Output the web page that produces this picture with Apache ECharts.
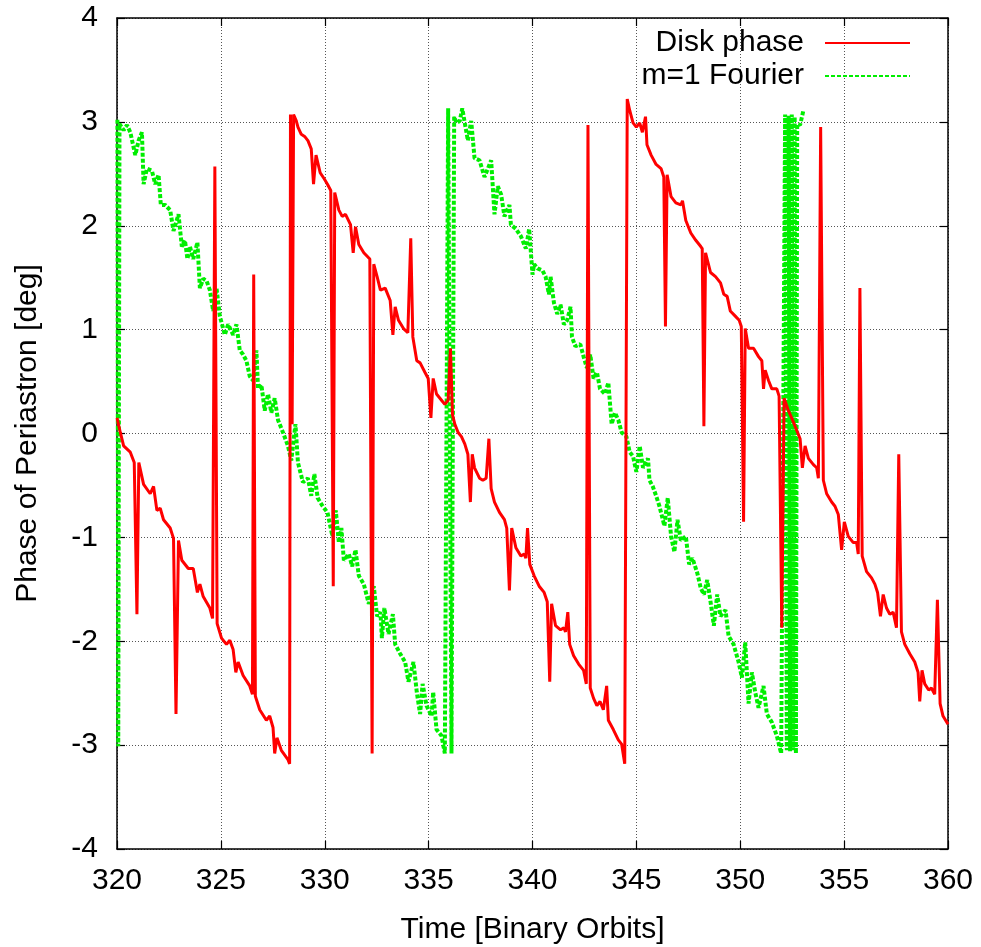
<!DOCTYPE html>
<html>
<head>
<meta charset="utf-8">
<script src="https://cdn.jsdelivr.net/npm/echarts@6/dist/echarts.min.js"></script>
<style>
html,body{margin:0;padding:0;background:#fff;}
#chart{width:981px;height:947px;}
</style>
</head>
<body>
<div id="chart"></div>
<script>
// ---- Data ----
const xTicks = [320, 325, 330, 335, 340, 345, 350, 355, 360];
const yTicks = [-4, -3, -2, -1, 0, 1, 2, 3, 4];
const seriesNames = ['Disk phase', 'm=1 Fourier'];

const diskTime = [
320.00,320.16,320.32,320.64,320.83,320.96,321.05,321.28,321.60,321.76,321.92,322.08,322.24,322.56,322.72,322.84,322.96,323.12,323.43,323.67,
323.87,323.99,324.15,324.47,324.60,324.71,324.82,325.03,325.27,325.43,325.59,325.72,325.83,326.07,326.39,326.52,326.58,326.66,326.87,327.19,
327.35,327.51,327.59,327.70,327.91,328.23,328.31,328.35,328.43,328.50,328.63,328.71,328.87,329.03,329.19,329.35,329.46,329.58,329.78,329.98,
330.13,330.29,330.41,330.48,330.68,330.84,331.00,331.24,331.37,331.48,331.64,331.88,332.17,332.28,332.36,332.52,332.68,332.91,333.15,333.28,
333.39,333.55,333.79,334.00,334.14,334.24,334.43,334.59,334.82,334.98,335.11,335.22,335.38,335.62,335.78,335.94,336.05,336.15,336.26,336.42,
336.58,336.74,336.89,337.01,337.10,337.21,337.45,337.61,337.77,337.90,338.01,338.17,338.41,338.65,338.76,338.89,339.00,339.20,339.44,339.60,
339.68,339.76,339.87,340.08,340.32,340.56,340.71,340.83,340.92,341.11,341.35,341.51,341.59,341.70,341.79,341.98,342.22,342.46,342.59,342.67,
342.78,342.94,343.10,343.25,343.41,343.57,343.65,343.89,344.13,344.29,344.44,344.56,344.68,344.84,345.00,345.16,345.29,345.44,345.51,345.71,
345.95,346.19,346.32,346.40,346.48,346.67,346.90,347.14,347.22,347.38,347.62,347.86,348.10,348.17,348.25,348.33,348.57,348.81,349.05,349.21,
349.37,349.52,349.76,349.95,350.05,350.16,350.24,350.40,350.64,350.88,351.04,351.12,351.20,351.36,351.52,351.76,351.87,352.00,352.11,352.32,
352.56,352.72,352.88,352.99,353.12,353.28,353.52,353.68,353.76,353.87,354.00,354.16,354.40,354.56,354.72,354.88,355.01,355.20,355.44,355.60,
355.68,355.76,355.87,356.08,356.32,356.48,356.61,356.75,356.88,357.04,357.20,357.36,357.52,357.63,357.76,357.92,358.16,358.40,358.56,358.64,
358.75,358.88,359.07,359.20,359.36,359.49,359.62,359.76,360.00
];
const diskPhase = [
0.15,0.01,-0.12,-0.18,-0.28,-1.74,-0.28,-0.49,-0.58,-0.51,-0.74,-0.72,-0.83,-0.91,-1.01,-2.70,-1.03,-1.22,-1.30,-1.30,
-1.53,-1.45,-1.57,-1.68,-1.78,2.57,-1.83,-1.97,-2.03,-1.99,-2.08,-2.30,-2.20,-2.33,-2.43,-2.51,1.53,-2.53,-2.66,-2.76,
-2.72,-2.83,-3.08,-2.93,-3.05,-3.14,-3.18,3.07,0.09,3.07,3.01,2.95,2.88,2.86,2.82,2.74,2.40,2.68,2.51,2.45,
2.40,2.34,-1.47,2.32,2.15,2.09,2.11,2.01,1.74,1.99,1.82,1.74,1.68,-3.08,1.63,1.51,1.38,1.40,1.28,0.95,
1.22,1.09,1.01,0.97,1.88,0.93,0.70,0.68,0.59,0.53,0.15,0.53,0.38,0.32,0.28,0.32,0.82,0.18,0.09,0.01,
-0.03,-0.10,-0.20,-0.66,-0.20,-0.33,-0.43,-0.45,-0.43,-0.05,-0.53,-0.66,-0.76,-0.83,-0.91,-1.51,-0.91,-1.10,-1.18,-1.16,
-1.20,-0.91,-1.26,-1.37,-1.47,-1.53,-1.62,-2.39,-1.64,-1.85,-1.89,-1.87,-1.91,-1.72,-2.03,-2.14,-2.22,-2.28,-2.41,2.97,
-2.45,-2.55,-2.62,-2.58,-2.66,-2.43,-2.76,-2.85,-2.95,-2.99,-3.18,3.22,3.11,2.99,2.95,2.99,2.90,3.05,2.78,2.68,
2.59,2.55,2.47,1.03,2.49,2.28,2.22,2.20,2.24,2.05,1.93,1.86,1.80,1.78,0.07,1.74,1.55,1.51,1.45,1.34,
1.32,1.18,1.13,1.09,1.03,-0.85,1.01,0.82,0.82,0.74,0.70,0.43,0.61,0.51,0.43,0.43,0.36,-1.87,0.34,0.22,
0.11,0.03,-0.05,-0.33,-0.12,-0.24,-0.30,-0.33,-0.43,2.95,-0.45,-0.58,-0.66,-0.70,-0.78,-1.12,-0.85,-0.99,-1.05,-1.05,
-1.16,1.40,-1.18,-1.33,-1.39,-1.45,-1.53,-1.76,-1.55,-1.68,-1.74,-1.72,-1.87,-0.20,-1.91,-2.03,-2.12,-2.20,-2.30,-2.58,
-2.28,-2.41,-2.47,-2.45,-2.51,-1.60,-2.60,-2.72,-2.80
];

const fourierTime = [
320.02,320.06,320.12,320.32,320.48,320.64,320.88,321.04,321.20,321.28,321.44,321.68,321.84,322.00,322.11,322.32,322.56,322.72,322.96,323.12,
323.27,323.39,323.51,323.67,323.87,323.99,324.15,324.31,324.47,324.63,324.79,324.95,325.19,325.35,325.59,325.75,325.91,326.07,326.23,326.39,
326.55,326.71,326.79,326.95,327.11,327.27,327.43,327.59,327.75,327.99,328.23,328.39,328.59,328.71,328.95,329.19,329.35,329.50,329.66,329.90,
330.13,330.37,330.53,330.68,330.80,330.92,331.16,331.32,331.48,331.64,331.88,332.12,332.36,332.52,332.68,332.75,332.87,333.07,333.28,333.39,
333.63,333.87,334.03,334.27,334.43,334.59,334.71,334.90,335.14,335.22,335.38,335.62,335.78,335.94,336.10,336.23,336.34,336.50,336.62,336.74,
336.89,337.05,337.21,337.45,337.69,338.01,338.17,338.33,338.49,338.65,338.89,338.96,339.20,339.44,339.68,339.84,340.00,340.08,340.24,340.48,
340.63,340.79,340.87,341.03,341.19,341.35,341.51,341.67,341.83,341.90,342.06,342.30,342.46,342.62,342.78,342.94,343.10,343.25,343.49,343.65,
343.81,343.97,344.13,344.29,344.52,344.68,344.84,345.00,345.16,345.32,345.56,345.63,345.79,345.95,346.11,346.35,346.51,346.67,346.83,346.98,
347.14,347.38,347.54,347.70,347.94,348.10,348.25,348.41,348.57,348.73,348.89,349.05,349.29,349.44,349.68,349.92,350.08,350.24,350.40,350.56,
350.72,350.88,351.12,351.28,351.52,351.76,351.97,352.16,352.24,352.33,352.40,352.48,352.55,352.62,352.68,352.74,352.88,353.04
];
const fourierPhase = [
3.02,-3.01,2.98,2.92,2.97,2.90,2.68,2.82,2.90,2.40,2.55,2.53,2.40,2.49,2.20,2.20,2.15,1.95,2.11,1.80,
1.86,1.68,1.80,1.68,1.84,1.40,1.49,1.47,1.38,1.18,1.40,1.13,0.95,1.05,0.95,1.05,0.80,0.76,0.70,0.55,
0.51,0.80,0.43,0.47,0.22,0.38,0.20,0.34,0.13,0.01,-0.12,-0.26,0.09,-0.28,-0.47,-0.43,-0.60,-0.39,-0.62,-0.70,
-0.76,-0.99,-0.74,-1.05,-0.91,-1.22,-1.16,-1.28,-1.12,-1.37,-1.45,-1.64,-1.47,-1.76,-1.72,-1.97,-1.68,-1.93,-1.74,-2.03,
-2.12,-2.20,-2.39,-2.20,-2.49,-2.70,-2.41,-2.62,-2.72,-2.49,-2.85,-2.91,-3.08,3.13,-3.08,3.05,2.99,3.01,3.13,2.99,
2.82,3.01,2.65,2.63,2.47,2.63,2.11,2.38,2.30,2.09,2.20,2.01,1.97,1.90,1.78,1.97,1.53,1.63,1.59,1.57,
1.51,1.34,1.51,1.26,1.15,1.24,1.05,1.09,1.22,0.93,0.84,0.86,0.74,0.63,0.76,0.53,0.59,0.43,0.38,0.49,
0.09,0.20,0.13,0.01,-0.03,-0.18,-0.22,-0.37,-0.12,-0.33,-0.24,-0.45,-0.51,-0.60,-0.70,-0.89,-0.62,-0.99,-1.14,-0.83,
-1.03,-0.99,-1.26,-1.20,-1.35,-1.49,-1.55,-1.41,-1.62,-1.85,-1.55,-1.76,-1.70,-1.95,-2.03,-2.20,-2.35,-2.01,-2.60,-2.30,
-2.49,-2.64,-2.43,-2.70,-2.78,-2.91,-3.08,3.07,-3.05,3.06,-3.06,3.07,-3.05,3.05,-3.08,2.98,2.97,3.11
];

// ---- Chart ----
const FONT = 'Liberation Sans, Arial, sans-serif';
const diskData = diskTime.map((t, i) => [t, diskPhase[i]]);
const fourierData = fourierTime.map((t, i) => [t, fourierPhase[i]]);

const chart = echarts.init(document.getElementById('chart'), null, {renderer: 'canvas'});
const gridLine = {show: true, lineStyle: {color: '#555', type: [1, 2], width: 1}};
const axisLineStyle = {show: true, onZero: false, lineStyle: {color: '#000', width: 1.5}};
const tickStyle = {show: true, inside: true, length: 8, lineStyle: {color: '#000', width: 1.2}};
const labelStyle = {color: '#000', fontFamily: FONT, fontSize: 30};

chart.setOption({
  animation: false,
  backgroundColor: '#fff',
  grid: {left: 117, top: 18, width: 831, height: 831, containLabel: false, outerBoundsMode: 'none'},
  legend: {
    data: seriesNames,
    orient: 'vertical',
    align: 'right',
    right: 70,
    top: 28,
    padding: 0,
    itemGap: 3,
    itemWidth: 85,
    itemHeight: 14,
    itemStyle: {opacity: 0},
    textStyle: {color: '#000', fontFamily: FONT, fontSize: 30, lineHeight: 30, padding: [0, 16, 0, 0]}
  },
  xAxis: [
    {
      type: 'value', min: xTicks[0], max: xTicks[xTicks.length - 1], interval: 5,
      position: 'bottom',
      name: 'Time [Binary Orbits]', nameLocation: 'middle', nameGap: 66,
      nameTextStyle: {color: '#000', fontFamily: FONT, fontSize: 30},
      axisLine: axisLineStyle, axisTick: tickStyle,
      axisLabel: Object.assign({margin: 17, showMinLabel: true, showMaxLabel: true}, labelStyle),
      splitLine: gridLine
    },
    {
      type: 'value', min: xTicks[0], max: xTicks[xTicks.length - 1], interval: 5,
      position: 'top',
      axisLine: axisLineStyle, axisTick: tickStyle,
      axisLabel: {show: false}, splitLine: {show: false}
    }
  ],
  yAxis: [
    {
      type: 'value', min: yTicks[0], max: yTicks[yTicks.length - 1], interval: 1,
      position: 'left',
      name: 'Phase of Periastron [deg]', nameLocation: 'middle', nameRotate: 90, nameGap: 74,
      nameTextStyle: {color: '#000', fontFamily: FONT, fontSize: 30},
      axisLine: axisLineStyle, axisTick: tickStyle,
      axisLabel: Object.assign({margin: 19, showMinLabel: true, showMaxLabel: true}, labelStyle),
      splitLine: gridLine
    },
    {
      type: 'value', min: yTicks[0], max: yTicks[yTicks.length - 1], interval: 1,
      position: 'right',
      axisLine: axisLineStyle, axisTick: tickStyle,
      axisLabel: {show: false}, splitLine: {show: false}
    }
  ],
  series: [
    {
      name: seriesNames[0], type: 'line', data: diskData,
      xAxisIndex: 0, yAxisIndex: 0,
      showSymbol: false, symbol: 'none', z: 3,
      lineStyle: {color: '#ff0000', width: 3},
      itemStyle: {color: '#ff0000'}
    },
    {
      name: seriesNames[1], type: 'line', data: fourierData,
      xAxisIndex: 0, yAxisIndex: 0,
      showSymbol: false, symbol: 'none', z: 2,
      lineStyle: {color: '#00ee00', width: 4, type: [4, 2]},
      itemStyle: {color: '#00ee00'}
    }
  ]
});
</script>
</body>
</html>
